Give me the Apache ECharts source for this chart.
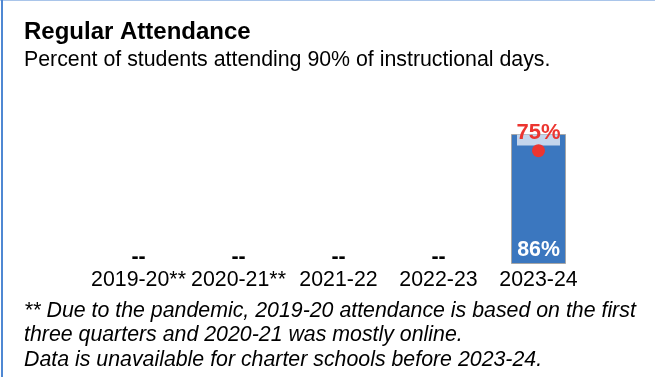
<!DOCTYPE html>
<html>
<head>
<meta charset="utf-8">
<script src="https://cdn.jsdelivr.net/npm/echarts@6/dist/echarts.min.js"></script>
<style>
html,body{margin:0;padding:0;background:#fff;}
#wrap{position:relative;width:655px;height:377px;}
#chart{position:absolute;left:0;top:0;width:655px;height:377px;}
#bl{position:absolute;left:1px;top:0;width:2px;height:377px;background:#4f88d3;pointer-events:none;}
#bt{position:absolute;left:0;top:0;width:655px;height:1px;background:#a9c5ea;pointer-events:none;}
</style>
</head>
<body>
<div id="wrap"><div id="chart"></div><div id="bt"></div><div id="bl"></div></div>
<script>
const chartTitle = 'Regular Attendance';
const chartSubtitle = 'Percent of students attending 90% of instructional days.';
const footnoteLines = [
  '** Due to the pandemic, 2019-20 attendance is based on the first',
  'three quarters and 2020-21 was mostly online.',
  'Data is unavailable for charter schools before 2023-24.'
];
const categories = ['2019-20**', '2020-21**', '2021-22', '2022-23', '2023-24'];
const schoolValues = [null, null, null, null, 86];
const comparisonValues = [null, null, null, null, 75];
const missingLabel = '--';

const FONT = "'Liberation Sans', Arial, sans-serif";
const FS = 21.33;
const chart = echarts.init(document.getElementById('chart'), null, {renderer: 'canvas'});

const barData = schoolValues.map(v => v == null
  ? {value: 0, itemStyle: {borderWidth: 0, color: 'transparent'},
     label: {show: true, position: 'top', distance: -4, formatter: missingLabel,
             color: '#000', fontWeight: 'bold', fontSize: FS, fontFamily: FONT}}
  : {value: v});
const bandData = schoolValues.map(v => v == null ? null : v);

chart.setOption({
  animation: false,
  backgroundColor: '#fff',
  title: [
    {text: chartTitle, left: 24, top: 18, padding: 0,
     textStyle: {fontFamily: FONT, fontWeight: 'bold', fontSize: 24, color: '#000', lineHeight: 28}},
    {text: chartSubtitle, left: 24, top: 48, padding: 0,
     textStyle: {fontFamily: FONT, fontWeight: 'normal', fontSize: FS, color: '#000', lineHeight: 24}},
    {text: footnoteLines.join('\n'), left: 24, top: 299, padding: 0,
     textStyle: {fontFamily: FONT, fontWeight: 'normal', fontStyle: 'italic', fontSize: FS, color: '#000', lineHeight: 24.3}}
  ],
  grid: {left: 88.5, right: 66.5, top: 112.84, bottom: 113, containLabel: false},
  xAxis: {
    type: 'category', data: categories,
    axisLine: {show: false}, axisTick: {show: false},
    axisLabel: {margin: 6, color: '#000', fontSize: FS, fontFamily: FONT, interval: 0}
  },
  yAxis: {type: 'value', min: 0, max: 100, show: false, splitLine: {show: false}},
  series: [
    {
      type: 'bar', data: barData, barWidth: 55, z: 2,
      itemStyle: {color: '#3b77bf', borderColor: '#a6a6a6', borderWidth: 1},
      label: {show: true, position: 'insideBottom', distance: 3, formatter: '{c}%',
              color: '#fff', fontWeight: 'bold', fontSize: FS, fontFamily: FONT}
    },
    {
      type: 'scatter', data: bandData, symbol: 'rect', symbolSize: [43, 11],
      symbolOffset: [0, 6], z: 3, silent: true,
      itemStyle: {color: '#c3d5ec', opacity: 1}
    },
    {
      type: 'scatter', data: comparisonValues, symbol: 'circle', symbolSize: 13, z: 4,
      itemStyle: {color: '#ec3530', opacity: 1},
      label: {show: true, position: 'top', distance: 0, formatter: '{c}%',
              color: '#ec3530', fontWeight: 'bold', fontSize: 22, fontFamily: FONT}
    }
  ]
});
</script>
</body>
</html>
